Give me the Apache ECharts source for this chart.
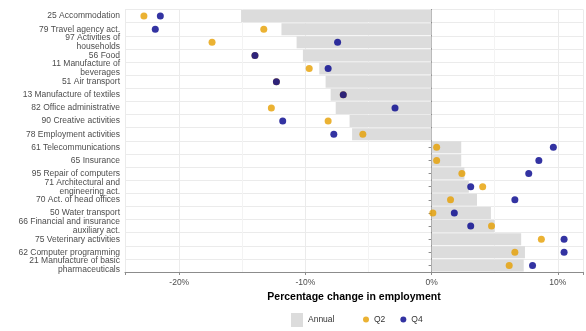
<!DOCTYPE html>
<html>
<head>
<meta charset="utf-8">
<script src="https://cdn.jsdelivr.net/npm/echarts@6/dist/echarts.min.js"></script>
<style>
html,body{margin:0;padding:0;background:#fff;}
#chart{width:586px;height:331px;}
</style>
</head>
<body>
<div id="chart"></div>
<script>
const categories = [
  "25 Accommodation",
  "79 Travel agency act.",
  "97 Activities of\nhouseholds",
  "56 Food",
  "11 Manufacture of\nbeverages",
  "51 Air transport",
  "13 Manufacture of textiles",
  "82 Office administrative",
  "90 Creative activities",
  "78 Employment activities",
  "61 Telecommunications",
  "65 Insurance",
  "95 Repair of computers",
  "71 Architectural and\nengineering act.",
  "70 Act. of head offices",
  "50 Water transport",
  "66 Financial and insurance\nauxiliary act.",
  "75 Veterinary activities",
  "62 Computer programming",
  "21 Manufacture of basic\npharmaceuticals"
];
const annual = [-15.1, -11.9, -10.7, -10.2, -8.9, -8.4, -8.0, -7.6, -6.5, -6.3,
                 2.35, 2.35, 2.6, 2.95, 3.6, 4.7, 5.0, 7.1, 7.4, 7.3];
const q2 = [-22.8, -13.3, -17.4, -14.0, -9.7, -12.3, -7.0, -12.7, -8.2, -5.45,
             0.4, 0.4, 2.4, 4.05, 1.5, 0.1, 4.75, 8.7, 6.6, 6.15];
const q4 = [-21.5, -21.9, -7.45, -14.0, -8.2, -12.3, -7.0, -2.9, -11.8, -7.75,
             9.65, 8.5, 7.7, 3.1, 6.6, 1.8, 3.1, 10.5, 10.5, 8.0];
const minorGrid = [-15, -5, 5];
const xMin = -24.3, xMax = 12.0;

const FONT = "Liberation Sans";
const chart = echarts.init(document.getElementById('chart'), null, {renderer: 'canvas'});
chart.setOption({
  animation: false,
  backgroundColor: '#ffffff',
  textStyle: {fontFamily: FONT},
  grid: {left: 125, right: 0, top: 9.5, bottom: 59, containLabel: false},
  xAxis: {
    type: 'value', min: xMin, max: xMax,
    name: 'Percentage change in employment',
    nameLocation: 'middle', nameGap: 16,
    nameTextStyle: {fontFamily: FONT, fontSize: 10.5, fontWeight: 'bold', color: '#000'},
    axisLine: {show: true, lineStyle: {color: '#8c8c8c', width: 1}},
    axisTick: {show: true, length: 3, lineStyle: {color: '#8c8c8c'}},
    axisLabel: {
      fontFamily: FONT, fontSize: 8.5, color: '#4d4d4d', margin: 6,
      formatter: v => (Math.abs(v % 10) < 1e-9 ? v + '%' : '')
    },
    splitLine: {show: true, lineStyle: {color: '#ebebeb', width: 1}}
  },
  yAxis: {
    type: 'category', data: categories, inverse: true,
    axisLine: {show: true, lineStyle: {color: '#8c8c8c', width: 1}},
    axisTick: {show: true, alignWithLabel: true, length: 3, lineStyle: {color: '#8c8c8c'}},
    axisLabel: {interval: 0, fontFamily: FONT, fontSize: 8.5, lineHeight: 9, color: '#4d4d4d', margin: 5},
    splitLine: {show: true, lineStyle: {color: '#ebebeb', width: 1}}
  },
  legend: [
    {
      data: [{name: 'Annual', icon: 'rect'}],
      left: 291, top: 313, padding: 0, itemWidth: 12, itemHeight: 14, itemGap: 10,
      textStyle: {fontFamily: FONT, fontSize: 8.5, color: '#333'}
    },
    {
      data: [{name: 'Q2', icon: 'circle'}, {name: 'Q4', icon: 'circle'}],
      left: 363, top: 315, padding: 0, itemWidth: 6, itemHeight: 6, itemGap: 15,
      textStyle: {fontFamily: FONT, fontSize: 8.5, color: '#333'}
    }
  ],
  series: [
    {
      type: 'line', data: [], z: 0, silent: true,
      markLine: {
        silent: true, symbol: 'none', label: {show: false},
        lineStyle: {color: '#f3f3f3', width: 1, type: 'solid'},
        data: minorGrid.map(v => ({xAxis: v}))
      }
    },
    {
      name: 'Annual', type: 'bar', data: annual, zlevel: 1, z: 2,
      barCategoryGap: '8%',
      itemStyle: {color: '#dcdcdc'}
    },
    {
      name: 'Q2', type: 'scatter', data: q2, zlevel: 1, z: 3,
      symbol: 'circle', symbolSize: 7,
      itemStyle: {color: '#e69f00'}
    },
    {
      name: 'Q4', type: 'scatter', data: q4, zlevel: 1, z: 4,
      symbol: 'circle', symbolSize: 7,
      itemStyle: {color: '#00008b'}
    }
  ]
});
</script>
</body>
</html>
